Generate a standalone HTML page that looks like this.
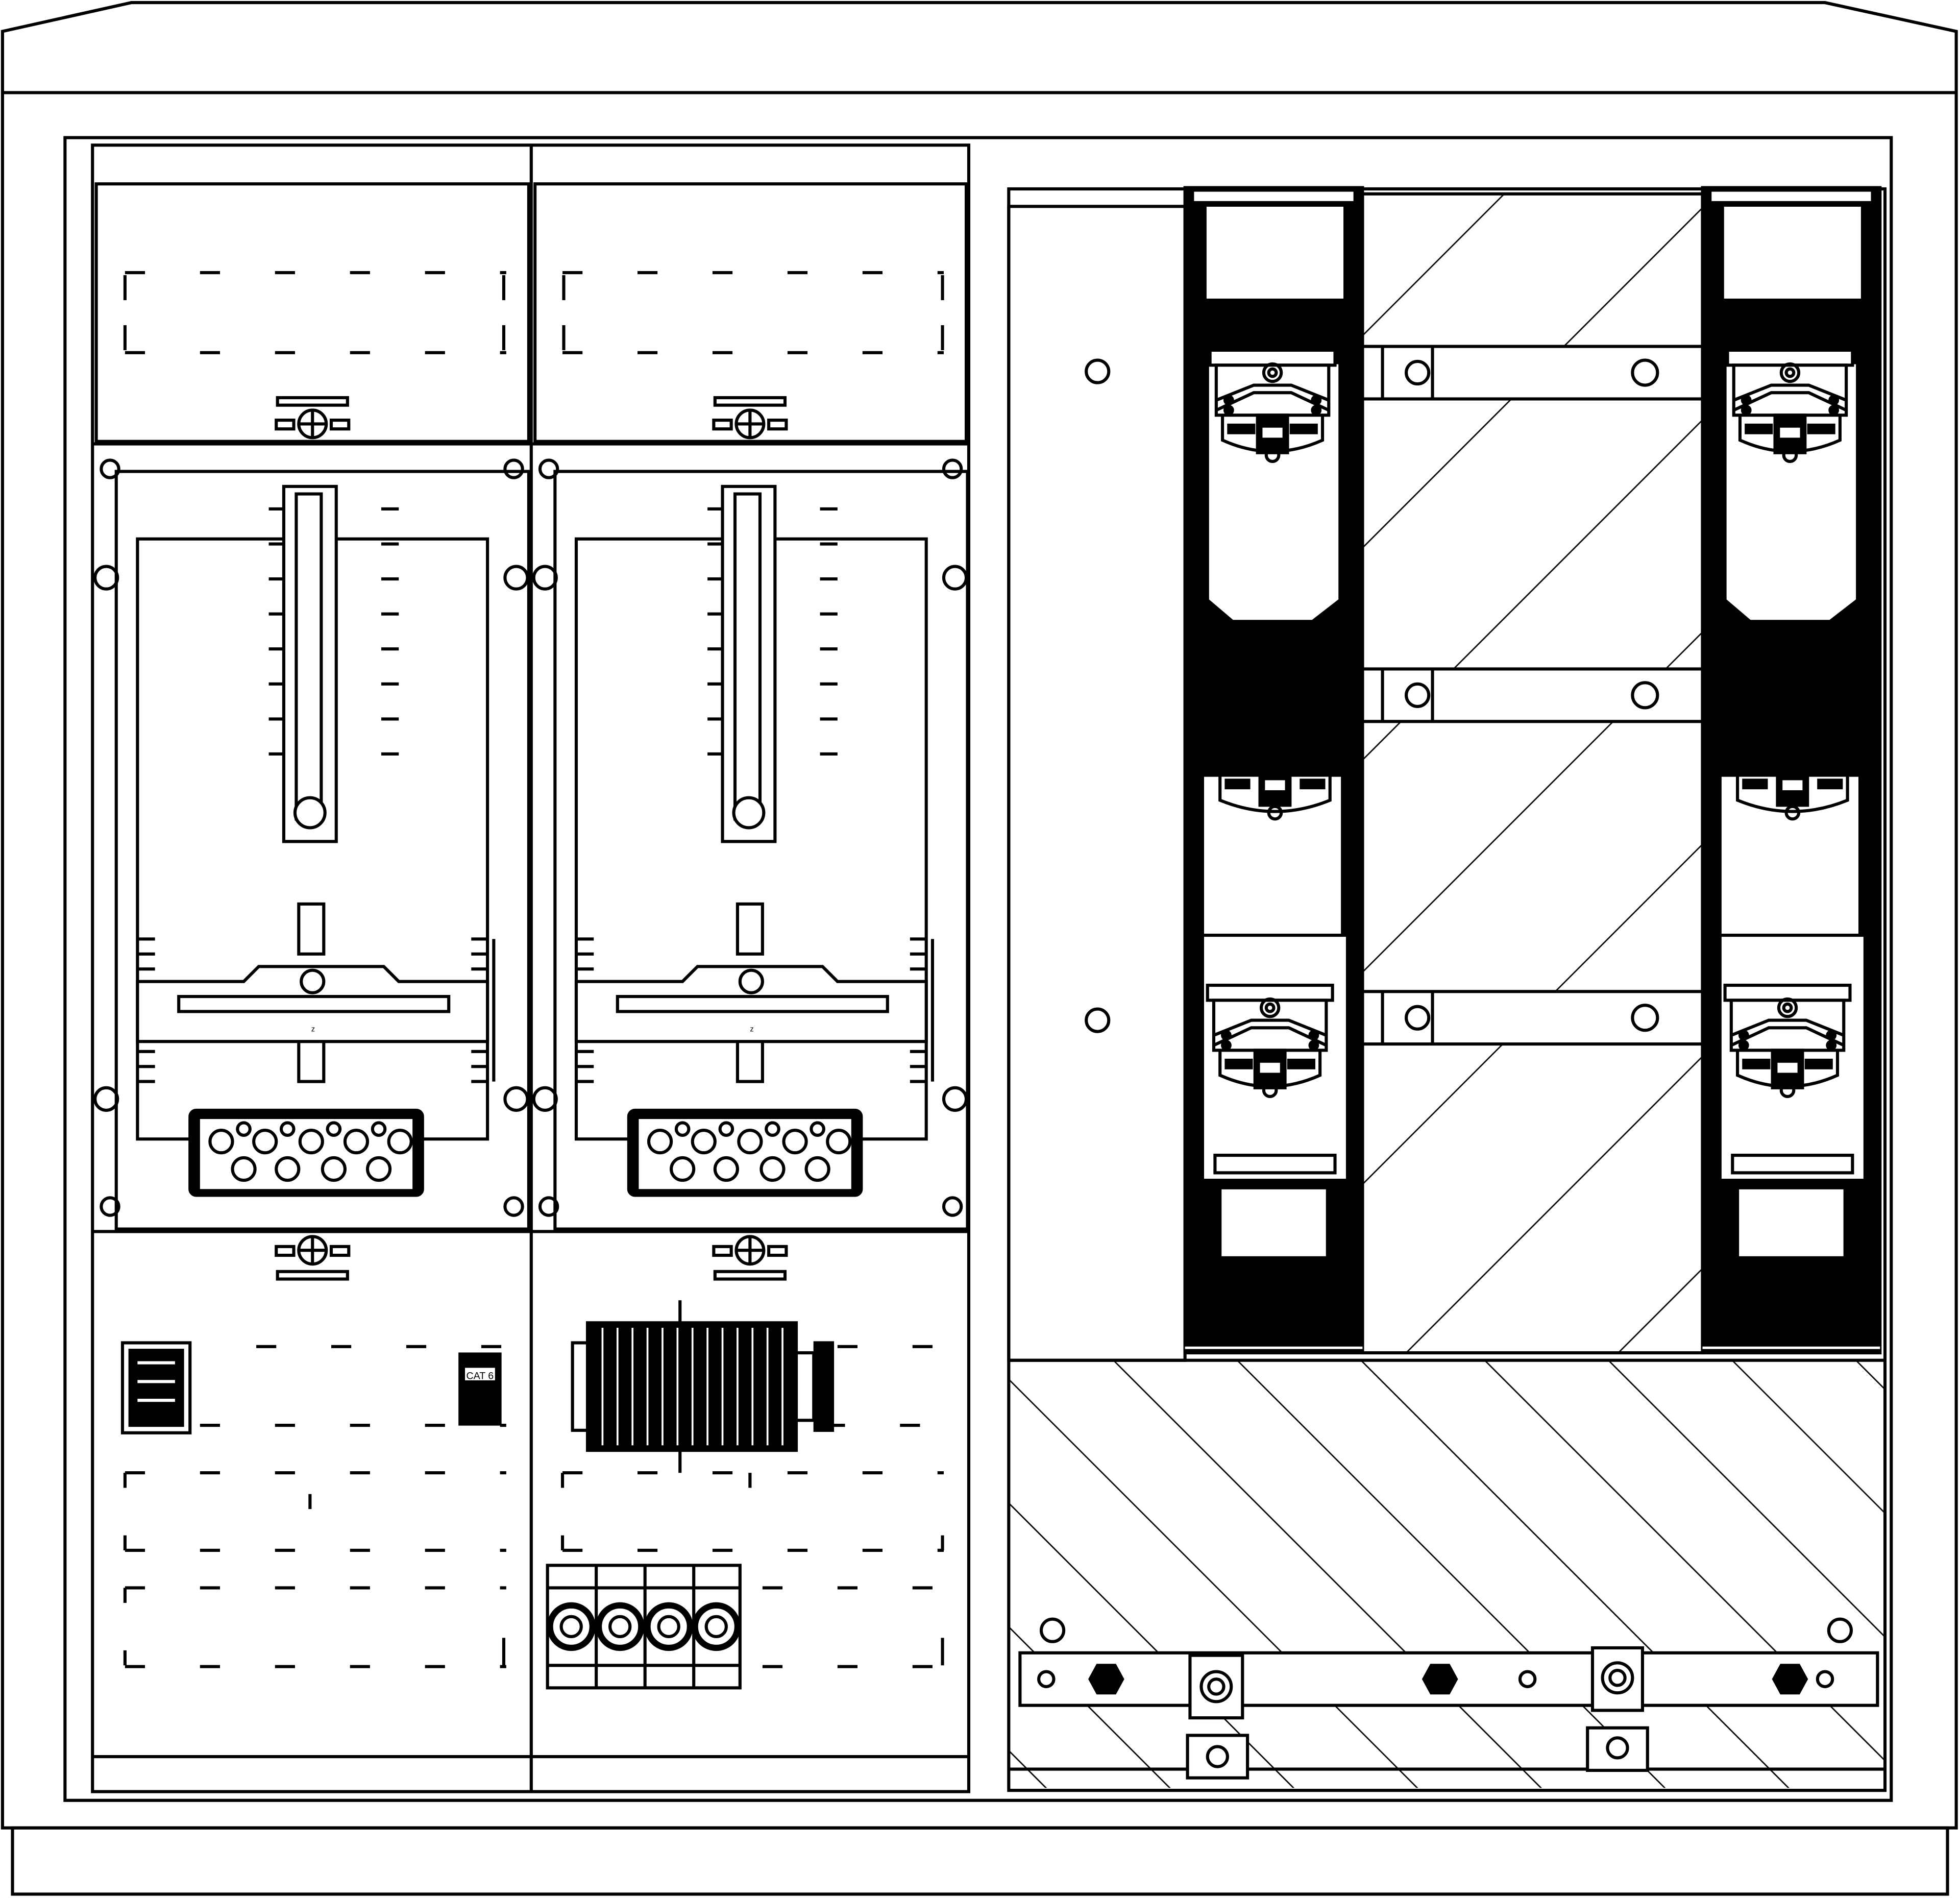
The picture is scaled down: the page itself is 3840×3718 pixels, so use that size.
<!DOCTYPE html>
<html><head><meta charset="utf-8"><style>
html,body{margin:0;padding:0;background:#fff}
svg{display:block}
</style></head><body>
<svg width="3840" height="3718" viewBox="0 0 1568 1518" xmlns="http://www.w3.org/2000/svg" fill="none" stroke="#000" stroke-width="2.5" font-family="Liberation Sans, sans-serif">
<defs>
<pattern id="h1" patternUnits="userSpaceOnUse" width="120" height="120" patternTransform="rotate(45)">
<line x1="0" y1="0" x2="0" y2="120" stroke="#000" stroke-width="2.2"/></pattern>
<pattern id="h2" patternUnits="userSpaceOnUse" width="70" height="70" patternTransform="rotate(-45)">
<line x1="0" y1="0" x2="0" y2="70" stroke="#000" stroke-width="2.2"/></pattern>
<g id="dev">
<rect x="0" y="0" width="100" height="12" fill="#fff"/>
<rect x="5" y="12" width="90" height="40" fill="#fff"/>
<circle cx="50" cy="18" r="7"/><circle cx="50" cy="18" r="3"/>
<path d="M5 40 L35 28 L65 28 L95 40 M5 48 L35 34 L65 34 L95 48"/>
<circle cx="15" cy="40" r="3" fill="#000"/><circle cx="85" cy="40" r="3" fill="#000"/>
<circle cx="15" cy="48" r="3" fill="#000"/><circle cx="85" cy="48" r="3" fill="#000"/>
<path d="M10 52 L10 72 Q50 90 90 72 L90 52" />
<rect x="38" y="52" width="24" height="30" fill="#000"/>
<rect x="42" y="62" width="16" height="8" fill="#fff" stroke="none"/>
<rect x="15" y="60" width="20" height="6" fill="#000"/><rect x="65" y="60" width="20" height="6" fill="#000"/>
<circle cx="50" cy="84" r="5"/>
</g>
<g id="fuse">
<rect x="0" y="0" width="142" height="932" fill="#000"/>
<rect x="6" y="2" width="130" height="10" fill="#fff"/>
<rect x="16" y="14" width="112" height="76" fill="#fff"/>
<path d="M18 140 L18 330 L38 347 L102 347 L124 330 L124 140 Z" fill="#fff"/>
<g transform="translate(20,130)"><use href="#dev"/></g>
<rect x="14" y="470" width="112" height="128" fill="#fff"/>
<path d="M14 598 L14 794 L130 794 L130 598 Z" fill="#fff"/>
<g transform="translate(28,460)">
<path d="M0 10 L0 30 Q44 48 88 30 L88 10 Z" fill="#fff"/>
<rect x="32" y="0" width="24" height="34" fill="#000"/><rect x="36" y="14" width="16" height="8" fill="#fff" stroke="none"/>
<rect x="5" y="14" width="18" height="6" fill="#000"/><rect x="65" y="14" width="18" height="6" fill="#000"/>
<circle cx="44" cy="40" r="5"/></g>
<g transform="translate(18,638)"><use href="#dev"/></g>
<rect x="24" y="774" width="96" height="14" fill="#fff"/>
<rect x="28" y="800" width="86" height="56" fill="#fff"/>
<line x1="0" y1="928" x2="142" y2="928" stroke="#fff" stroke-width="2"/>
</g>
<g id="meter">
<rect x="16" y="22" width="330" height="606"/>
<rect x="33" y="76" width="280" height="480"/>
<rect x="150" y="34" width="42" height="284" fill="#fff"/>
<rect x="160" y="40" width="20" height="260"/>
<circle cx="171" cy="295" r="12" fill="#fff"/>
<g stroke-width="2.5">
<path d="M138 52h12M138 80h12M138 108h12M138 136h12M138 164h12M138 192h12M138 220h12M138 248h12"/>
<path d="M228 52h14M228 80h14M228 108h14M228 136h14M228 164h14M228 192h14M228 220h14M228 248h14"/>
</g>
<rect x="162" y="368" width="20" height="40"/>
<rect x="162" y="468" width="20" height="42"/>
<path d="M33 430 L118 430 L130 418 L230 418 L242 430 L313 430 L313 478 L33 478 Z" fill="#fff"/>
<rect x="66" y="442" width="216" height="12"/>
<circle cx="173" cy="430" r="9" fill="#fff"/>
<path d="M33 396h14M33 408h14M33 420h14M33 486h14M33 498h14M33 510h14M300 396h14M300 408h14M300 420h14M300 486h14M300 498h14M300 510h14"/>
<line x1="318" y1="396" x2="318" y2="510"/>
<text x="172" y="470" font-size="6" fill="#000" stroke="none">z</text>
<rect x="75" y="533" width="186" height="68" rx="5" fill="#000"/>
<rect x="83" y="540" width="170" height="56" fill="#fff" stroke="none"/>
<g fill="#fff">
<circle cx="100" cy="558" r="9"/><circle cx="135" cy="558" r="9"/><circle cx="172" cy="558" r="9"/><circle cx="208" cy="558" r="9"/><circle cx="243" cy="558" r="9"/>
<circle cx="118" cy="580" r="9"/><circle cx="153" cy="580" r="9"/><circle cx="190" cy="580" r="9"/><circle cx="226" cy="580" r="9"/>
<circle cx="118" cy="548" r="5"/><circle cx="153" cy="548" r="5"/><circle cx="190" cy="548" r="5"/><circle cx="226" cy="548" r="5"/>
</g>
<circle cx="11" cy="20" r="7"/><circle cx="334" cy="20" r="7"/><circle cx="11" cy="610" r="7"/><circle cx="334" cy="610" r="7"/>
<circle cx="8" cy="107" r="9"/><circle cx="336" cy="107" r="9"/><circle cx="8" cy="524" r="9"/><circle cx="336" cy="524" r="9"/>
</g>
<g id="screw">
<rect x="-29" y="-7" width="14" height="7"/><rect x="15" y="-7" width="14" height="7"/>
<circle cx="0" cy="-4" r="11"/><path d="M-11 -4h22M0 -15v22"/>
</g>
</defs>

<path d="M2 25 L105 2 L1460 2 L1565 25 L1565 1462 L2 1462 Z"/>
<line x1="2" y1="74" x2="1565" y2="74"/>
<rect x="10" y="1462" width="1548" height="53"/>
<rect x="52" y="110" width="1461" height="1330"/>

<rect x="74" y="116" width="701" height="1317"/>
<line x1="425" y1="116" x2="425" y2="1433"/>
<line x1="74" y1="1405" x2="775" y2="1405"/>
<rect x="77" y="147" width="346" height="206"/>
<rect x="428" y="147" width="345" height="206"/>
<g stroke-dasharray="16 44">
<path d="M100 218 H405 M100 282 H405 M450 218 H755 M450 282 H755"/>
</g>
<path d="M100 220v20M403 220v20M100 260v20M403 260v20M451 220v20M754 220v20M451 260v20M754 260v20"/>
<rect x="222" y="318" width="56" height="6"/><rect x="572" y="318" width="56" height="6"/>
<g transform="translate(250,343)"><use href="#screw"/></g>
<g transform="translate(600,343)"><use href="#screw"/></g>

<line x1="74" y1="355" x2="775" y2="355"/>
<line x1="74" y1="985" x2="775" y2="985"/>
<g transform="translate(77,355)"><use href="#meter"/></g>
<g transform="translate(428,355)"><use href="#meter"/></g>

<g transform="translate(250,1004)"><use href="#screw"/></g>
<g transform="translate(600,1004)"><use href="#screw"/></g>
<rect x="222" y="1017" width="56" height="6"/><rect x="572" y="1017" width="56" height="6"/>
<g stroke-dasharray="16 44">
<path d="M205 1077 H405 M160 1140 H405 M100 1178 H405 M100 1240 H405 M100 1270 H405 M100 1333 H405"/>
<path d="M670 1077 H755 M660 1140 H755 M450 1178 H755 M450 1240 H755 M610 1270 H755 M610 1333 H755"/>
</g>
<path d="M100 1178v12M100 1228v12M100 1270v12M100 1320v12M403 1310v22M248 1195v12M600 1178v12M754 1228v12M754 1310v22M450 1178v12M450 1228v12"/>
<rect x="98" y="1074" width="54" height="72"/>
<rect x="104" y="1080" width="42" height="60" fill="#000"/>
<path d="M110 1090h30M110 1105h30M110 1120h30" stroke="#fff"/>
<rect x="368" y="1083" width="32" height="56" fill="#000"/>
<rect x="372" y="1094" width="24" height="10" fill="#fff" stroke="none"/>
<text x="373" y="1103" font-size="8" fill="#000" stroke="none">CAT 6</text>
<line x1="544" y1="1040" x2="544" y2="1178"/>
<rect x="458" y="1074" width="16" height="70"/>
<rect x="470" y="1058" width="167" height="102" fill="#000"/>
<g stroke="#fff" stroke-width="1.5"><path d="M482 1062v94M494 1062v94M506 1062v94M518 1062v94M530 1062v94M542 1062v94M554 1062v94M566 1062v94M578 1062v94M590 1062v94M602 1062v94M614 1062v94M626 1062v94"/></g>
<rect x="637" y="1082" width="14" height="54"/>
<rect x="652" y="1074" width="14" height="70" fill="#000"/>
<rect x="438" y="1252" width="154" height="98"/>
<path d="M477 1252v98M516 1252v98M555 1252v98M438 1270h154M438 1332h154"/>
<g><circle cx="457" cy="1301" r="17" stroke-width="5"/><circle cx="457" cy="1301" r="8"/>
<circle cx="496" cy="1301" r="17" stroke-width="5"/><circle cx="496" cy="1301" r="8"/>
<circle cx="535" cy="1301" r="17" stroke-width="5"/><circle cx="535" cy="1301" r="8"/>
<circle cx="573" cy="1301" r="17" stroke-width="5"/><circle cx="573" cy="1301" r="8"/></g>

<rect x="807" y="151" width="701" height="1281"/>
<rect x="807" y="165" width="141" height="923"/>
<circle cx="878" cy="297" r="9"/><circle cx="878" cy="816" r="9"/>
<rect x="1090" y="155" width="272" height="927" fill="url(#h1)"/>
<rect x="808" y="1088" width="700" height="342" fill="url(#h2)" stroke="none"/>
<line x1="808" y1="1088" x2="1508" y2="1088"/>
<line x1="808" y1="1415" x2="1508" y2="1415"/>
<g fill="#fff">
<rect x="1090" y="277" width="272" height="42"/><rect x="1090" y="535" width="272" height="42"/><rect x="1090" y="793" width="272" height="42"/>
</g>
<g><circle cx="1134" cy="298" r="9"/><circle cx="1316" cy="298" r="10"/>
<circle cx="1134" cy="556" r="9"/><circle cx="1316" cy="556" r="10"/>
<circle cx="1134" cy="814" r="9"/><circle cx="1316" cy="814" r="10"/></g>
<path d="M1106 277v42M1146 277v42M1106 535v42M1146 535v42M1106 793v42M1146 793v42"/>
<g transform="translate(948,150)"><use href="#fuse"/></g>
<g transform="translate(1362,150)"><use href="#fuse"/></g>

<rect x="816" y="1322" width="686" height="42" fill="#fff"/>
<circle cx="842" cy="1304" r="9" fill="#fff"/><circle cx="1472" cy="1304" r="9" fill="#fff"/>
<circle cx="837" cy="1343" r="6"/><circle cx="1222" cy="1343" r="6"/><circle cx="1460" cy="1343" r="6"/>
<g fill="#000"><polygon points="872,1343 878,1332 892,1332 898,1343 892,1354 878,1354"/>
<polygon points="1139,1343 1145,1332 1159,1332 1165,1343 1159,1354 1145,1354"/>
<polygon points="1419,1343 1425,1332 1439,1332 1445,1343 1439,1354 1425,1354"/></g>
<rect x="952" y="1324" width="42" height="50" fill="#fff"/><circle cx="973" cy="1349" r="12"/><circle cx="973" cy="1349" r="6"/>
<rect x="950" y="1388" width="48" height="34" fill="#fff"/><circle cx="974" cy="1405" r="8"/>
<rect x="1274" y="1318" width="40" height="50" fill="#fff"/><circle cx="1294" cy="1342" r="12"/><circle cx="1294" cy="1342" r="6"/>
<rect x="1270" y="1382" width="48" height="34" fill="#fff"/><circle cx="1294" cy="1398" r="8"/>
</svg>
</body></html>
